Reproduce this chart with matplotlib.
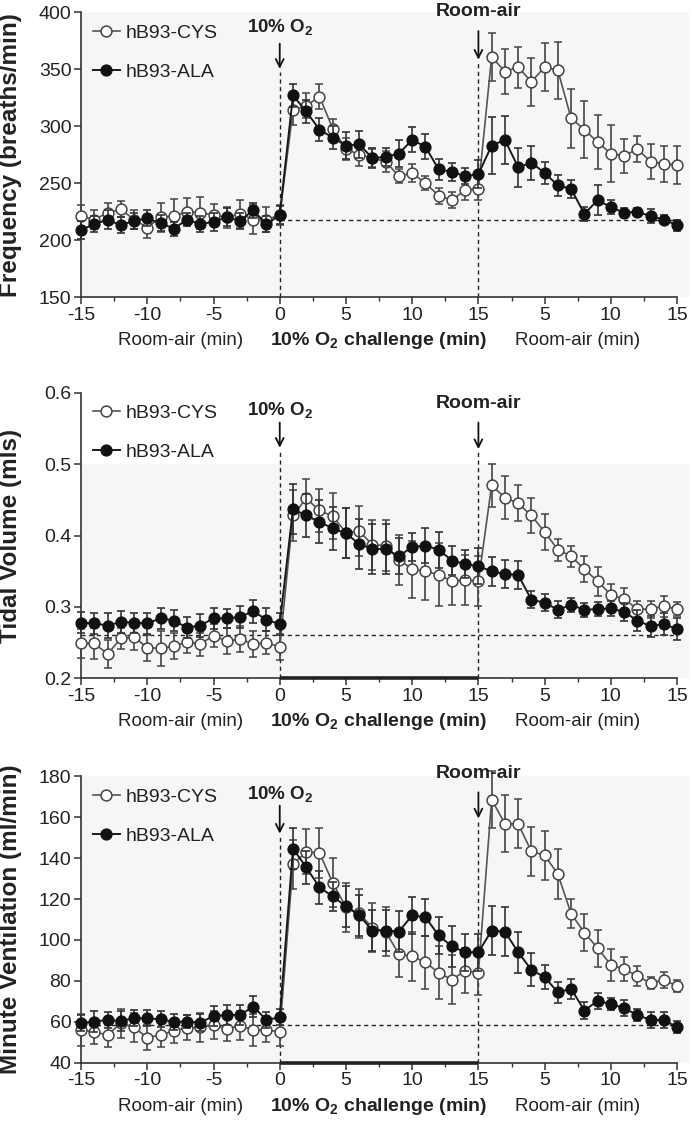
import numpy as np
import matplotlib
matplotlib.use("Agg")
import matplotlib.pyplot as plt
from matplotlib.ticker import FixedLocator, FixedFormatter, MultipleLocator
from matplotlib.legend_handler import HandlerLine2D

plt.rcParams['font.family'] = ['Liberation Sans', 'DejaVu Sans']
plt.rcParams['mathtext.fontset'] = 'custom'
plt.rcParams['mathtext.rm'] = 'Liberation Sans'
plt.rcParams['mathtext.bf'] = 'Liberation Sans:bold'

# time axis: -15..0 room air, 1..15 hypoxia, 16..30 room-air recovery
minutes = list(range(-15, 31))
xtick_pos = [-15, -10, -5, 0, 5, 10, 15, 20, 25, 30]
xtick_labels = ['-15', '-10', '-5', '0', '5', '10', '15', '5', '10', '15']
series_names = ['hB93-CYS', 'hB93-ALA']

# ---- Frequency (breaths/min)
freq_cys = [221, 218, 224, 227, 218, 211, 220, 221, 225, 224, 222, 220, 223, 218, 218, 222,
            314, 318, 326, 298, 280, 275, 272, 269, 256, 259, 250, 239, 235, 244, 245,
            361, 348, 352, 339, 352, 349, 307, 297, 286, 276, 274, 280, 269, 267, 266]
freq_cys_err = [10, 8, 9, 7, 8, 9, 13, 15, 12, 14, 10, 9, 12, 13, 11, 9,
                13, 11, 11, 8, 10, 10, 8, 9, 6, 8, 6, 7, 7, 9, 10,
                21, 20, 18, 21, 21, 25, 26, 25, 24, 25, 15, 11, 15, 16, 17]
freq_ala = [209, 214, 218, 213, 217, 219, 215, 210, 218, 214, 216, 220, 217, 226, 214, 222,
            327, 313, 297, 290, 283, 284, 272, 273, 276, 288, 282, 262, 260, 256, 258,
            283, 288, 264, 268, 259, 248, 245, 223, 235, 229, 224, 225, 221, 218, 213]
freq_ala_err = [8, 7, 8, 7, 7, 7, 7, 6, 6, 7, 8, 8, 7, 7, 7, 8,
                10, 10, 10, 10, 12, 12, 9, 8, 12, 11, 11, 9, 8, 7, 12,
                25, 21, 17, 15, 10, 9, 8, 6, 13, 6, 4, 3, 6, 4, 5]
freq_baseline = 218

# ---- Tidal volume (mls)
tv_cys = [0.249, 0.249, 0.234, 0.256, 0.258, 0.243, 0.242, 0.245, 0.251, 0.248, 0.260, 0.252, 0.255, 0.248, 0.250, 0.244,
          0.428, 0.452, 0.435, 0.427, 0.404, 0.406, 0.387, 0.386, 0.366, 0.353, 0.350, 0.345, 0.336, 0.338, 0.336,
          0.470, 0.453, 0.445, 0.428, 0.405, 0.380, 0.371, 0.353, 0.336, 0.317, 0.311, 0.297, 0.297, 0.301, 0.297]
tv_cys_err = [0.020, 0.022, 0.020, 0.015, 0.018, 0.018, 0.024, 0.018, 0.015, 0.016, 0.016, 0.018, 0.018, 0.018, 0.016, 0.018,
              0.035, 0.027, 0.030, 0.032, 0.035, 0.035, 0.035, 0.035, 0.035, 0.040, 0.040, 0.044, 0.033, 0.035, 0.035,
              0.030, 0.030, 0.025, 0.025, 0.025, 0.015, 0.015, 0.018, 0.020, 0.015, 0.015, 0.012, 0.012, 0.015, 0.010]
tv_ala = [0.278, 0.277, 0.274, 0.279, 0.278, 0.277, 0.284, 0.281, 0.271, 0.274, 0.284, 0.284, 0.286, 0.294, 0.282, 0.276,
          0.437, 0.428, 0.419, 0.410, 0.403, 0.388, 0.381, 0.381, 0.371, 0.384, 0.386, 0.380, 0.365, 0.360, 0.357,
          0.350, 0.346, 0.345, 0.310, 0.306, 0.296, 0.303, 0.296, 0.297, 0.298, 0.293, 0.281, 0.273, 0.276, 0.269]
tv_ala_err = [0.015, 0.015, 0.017, 0.015, 0.014, 0.015, 0.015, 0.015, 0.015, 0.016, 0.015, 0.013, 0.015, 0.016, 0.016, 0.015,
              0.035, 0.030, 0.030, 0.030, 0.035, 0.035, 0.035, 0.035, 0.025, 0.020, 0.025, 0.025, 0.020, 0.020, 0.025,
              0.020, 0.020, 0.020, 0.012, 0.012, 0.012, 0.010, 0.010, 0.010, 0.010, 0.012, 0.015, 0.015, 0.015, 0.015]
tv_baseline = 0.261

# ---- Minute ventilation (ml/min)
mv_cys = [56, 55, 53.6, 59.3, 57.3, 52.2, 53.6, 55.5, 57.1, 57.3, 58.4, 56.5, 58.1, 56, 56, 55,
          137, 143, 142.5, 128, 116, 113, 106, 104, 93, 92, 89, 84, 80.5, 85, 84,
          168.6, 156.8, 156.8, 143.3, 141.3, 132.2, 112.8, 103.6, 96, 87.8, 85.7, 82.4, 78.8, 80.5, 77.5]
mv_cys_err = [8, 6, 6, 7, 7, 6, 6, 6, 6, 7, 7, 6, 7, 8, 6, 7,
              12, 11, 12, 12, 12, 12, 12, 12, 11, 12, 13, 13, 12, 11, 11,
              14, 14, 12, 12, 12, 12, 7, 9, 9, 8, 6, 5, 3, 4, 3]
mv_ala = [59.3, 60.1, 60.9, 60.4, 61.7, 61.7, 61.2, 59.9, 60.1, 59.6, 62.8, 63.3, 63.3, 67.4, 60.9, 62.2,
          144.6, 135.5, 125.7, 121.3, 116.4, 112, 104.6, 104.6, 104.1, 112, 111.1, 102.2, 96.8, 94, 94,
          104.6, 104.1, 94, 85.4, 81.8, 74.4, 76.1, 65.5, 70.2, 68.7, 66.6, 63.3, 60.9, 60.9, 57.3]
mv_ala_err = [4, 5, 4, 5, 4, 4, 4, 4, 3, 4, 5, 5, 5, 5, 4, 4,
              10, 8, 8, 7, 10, 10, 10, 10, 10, 9, 9, 9, 10, 9, 9,
              12, 12, 10, 8, 6, 5, 5, 4, 4, 3, 4, 3, 4, 4, 3]
mv_baseline = 58.3

panels = [
    dict(label='Frequency (breaths/min)', cys=freq_cys, cyse=freq_cys_err, ala=freq_ala, alae=freq_ala_err,
         base=freq_baseline, base_start=0, ylim=(150, 400), ystep=50, fmt='%d',
         o2_text=386, o2_arrow=(375, 348), ra_text=401, ra_arrow=(386, 356), shade=(150, 400), thick=False),
    dict(label='Tidal Volume (mls)', cys=tv_cys, cyse=tv_cys_err, ala=tv_ala, alae=tv_ala_err,
         base=tv_baseline, base_start=-15, ylim=(0.2, 0.6), ystep=0.1, fmt='%.1f',
         o2_text=0.574, o2_arrow=(0.562, 0.519), ra_text=0.585, ra_arrow=(0.562, 0.517), shade=(0.2, 0.5), thick=True),
    dict(label='Minute Ventilation (ml/min)', cys=mv_cys, cyse=mv_cys_err, ala=mv_ala, alae=mv_ala_err,
         base=mv_baseline, base_start=-15, ylim=(40, 180), ystep=20, fmt='%d',
         o2_text=171, o2_arrow=(167, 150.6), ra_text=181.5, ra_arrow=(173.5, 158), shade=(40, 180), thick=True),
]

fig = plt.figure(figsize=(6.93, 11.25), dpi=100)
left, right = 0.117, 0.977
tops = [0.989, 0.651, 0.310]
bots = [0.736, 0.397, 0.0554]


class LeftLineHandler(HandlerLine2D):
    def create_artists(self, legend, orig_handle, xdescent, ydescent, width, height, fontsize, trans):
        arts = super().create_artists(legend, orig_handle, xdescent, ydescent, width, height, fontsize, trans)
        for a in arts:
            xd = a.get_xdata()
            if len(xd) == 1:
                a.set_xdata([xd[0] + width * 0.35])
        return arts


for p, top, bot in zip(panels, tops, bots):
    ax = fig.add_axes([left, bot, right - left, top - bot])
    ax.set_facecolor('white')
    ax.axhspan(p['shade'][0], p['shade'][1], xmin=0, xmax=1.02, color='#f6f6f6', zorder=0, lw=0, clip_on=False)
    x = np.array(minutes)
    # baseline dashed
    ax.plot([p['base_start'], 30], [p['base'], p['base']], ls=(0, (3, 2.5)), color='#222222', lw=1.0, zorder=1)
    # vertical dashed lines
    ax.plot([0, 0], [p['ylim'][0], p['o2_arrow'][1]], ls=(0, (3, 2.5)), color='#222222', lw=1.0, zorder=1, clip_on=False)
    ax.plot([15, 15], [p['ylim'][0], p['ra_arrow'][1]], ls=(0, (3, 2.5)), color='#222222', lw=1.0, zorder=1, clip_on=False)

    l1 = ax.errorbar(x, p['cys'], yerr=p['cyse'], fmt='o-', color='#555555', ecolor='#444444', elinewidth=1.2,
                     capsize=2.6, capthick=1.2, lw=1.2, ms=7.8, mfc='white', mec='#444444', mew=1.1,
                     zorder=3, clip_on=False, label=series_names[0])
    l2 = ax.errorbar(x, p['ala'], yerr=p['alae'], fmt='o-', color='#1a1a1a', ecolor='#333333', elinewidth=1.2,
                     capsize=2.6, capthick=1.2, lw=1.4, ms=7.8, mfc='#111111', mec='#111111',
                     zorder=4, clip_on=False, label=series_names[1])
    for art in [l1, l2]:
        for c in art.lines[1]:
            c.set_clip_on(False)
        for c in art.lines[2]:
            c.set_clip_on(False)

    if p['thick']:
        ax.plot([0, 15], [p['ylim'][0], p['ylim'][0]], color='#222222', lw=2.6, zorder=5, clip_on=False,
                solid_capstyle='butt')

    ax.set_xlim(-15, 30)
    ax.set_ylim(*p['ylim'])
    ax.spines['top'].set_visible(False)
    ax.spines['right'].set_visible(False)
    for s in ['left', 'bottom']:
        ax.spines[s].set_linewidth(1.2)
        ax.spines[s].set_color('#333333')
    ax.xaxis.set_major_locator(FixedLocator(xtick_pos))
    ax.xaxis.set_major_formatter(FixedFormatter(xtick_labels))
    ax.xaxis.set_minor_locator(MultipleLocator(2.5))
    ax.yaxis.set_major_locator(MultipleLocator(p['ystep']))
    ax.yaxis.set_major_formatter(plt.FormatStrFormatter(p['fmt']))
    ax.tick_params(axis='both', which='major', labelsize=14, length=5, width=1.1, color='#333333',
                   labelcolor='#222222', pad=2)
    ax.tick_params(axis='x', which='minor', length=3, width=1.0, color='#333333')
    ax.set_ylabel(p['label'], fontsize=17.5, fontweight='bold', color='#222222')
    ax.yaxis.set_label_coords(-0.099, 0.5)

    # arrows and annotations
    ax.annotate('', xy=(0, p['o2_arrow'][1]), xytext=(0, p['o2_arrow'][0]),
                arrowprops=dict(arrowstyle='->', lw=1.3, color='#111111', mutation_scale=14), annotation_clip=False)
    ax.annotate('', xy=(15, p['ra_arrow'][1]), xytext=(15, p['ra_arrow'][0]),
                arrowprops=dict(arrowstyle='->', lw=1.3, color='#111111', mutation_scale=14), annotation_clip=False)
    ax.text(0, p['o2_text'], r'10% O$_\mathbf{2}$', ha='center', va='center', fontsize=13.5, fontweight='bold',
            color='#222222', clip_on=False)
    ax.text(15, p['ra_text'], 'Room-air', ha='center', va='center', fontsize=14, fontweight='bold',
            color='#222222', clip_on=False)

    # x axis phase labels
    ax.text(-7.5, -0.152, 'Room-air (min)', transform=ax.get_xaxis_transform(), ha='center', va='center',
            fontsize=13.5, color='#222222')
    ax.text(7.5, -0.152, r'10% O$_\mathbf{2}$ challenge (min)', transform=ax.get_xaxis_transform(), ha='center',
            va='center', fontsize=14, fontweight='bold', color='#222222')
    ax.text(22.5, -0.152, 'Room-air (min)', transform=ax.get_xaxis_transform(), ha='center', va='center',
            fontsize=13.5, color='#222222')

    h = [l1.lines[0], l2.lines[0]]
    leg = ax.legend(h, series_names, loc='upper left', bbox_to_anchor=(0.0, 1.0), frameon=False, fontsize=14,
                    numpoints=1, handlelength=1.4, handletextpad=0.3, labelspacing=1.1, borderaxespad=0.2,
                    handler_map={h[0]: LeftLineHandler(), h[1]: LeftLineHandler()})
    for t in leg.get_texts():
        t.set_color('#222222')

fig.savefig('out.png', dpi=100)
